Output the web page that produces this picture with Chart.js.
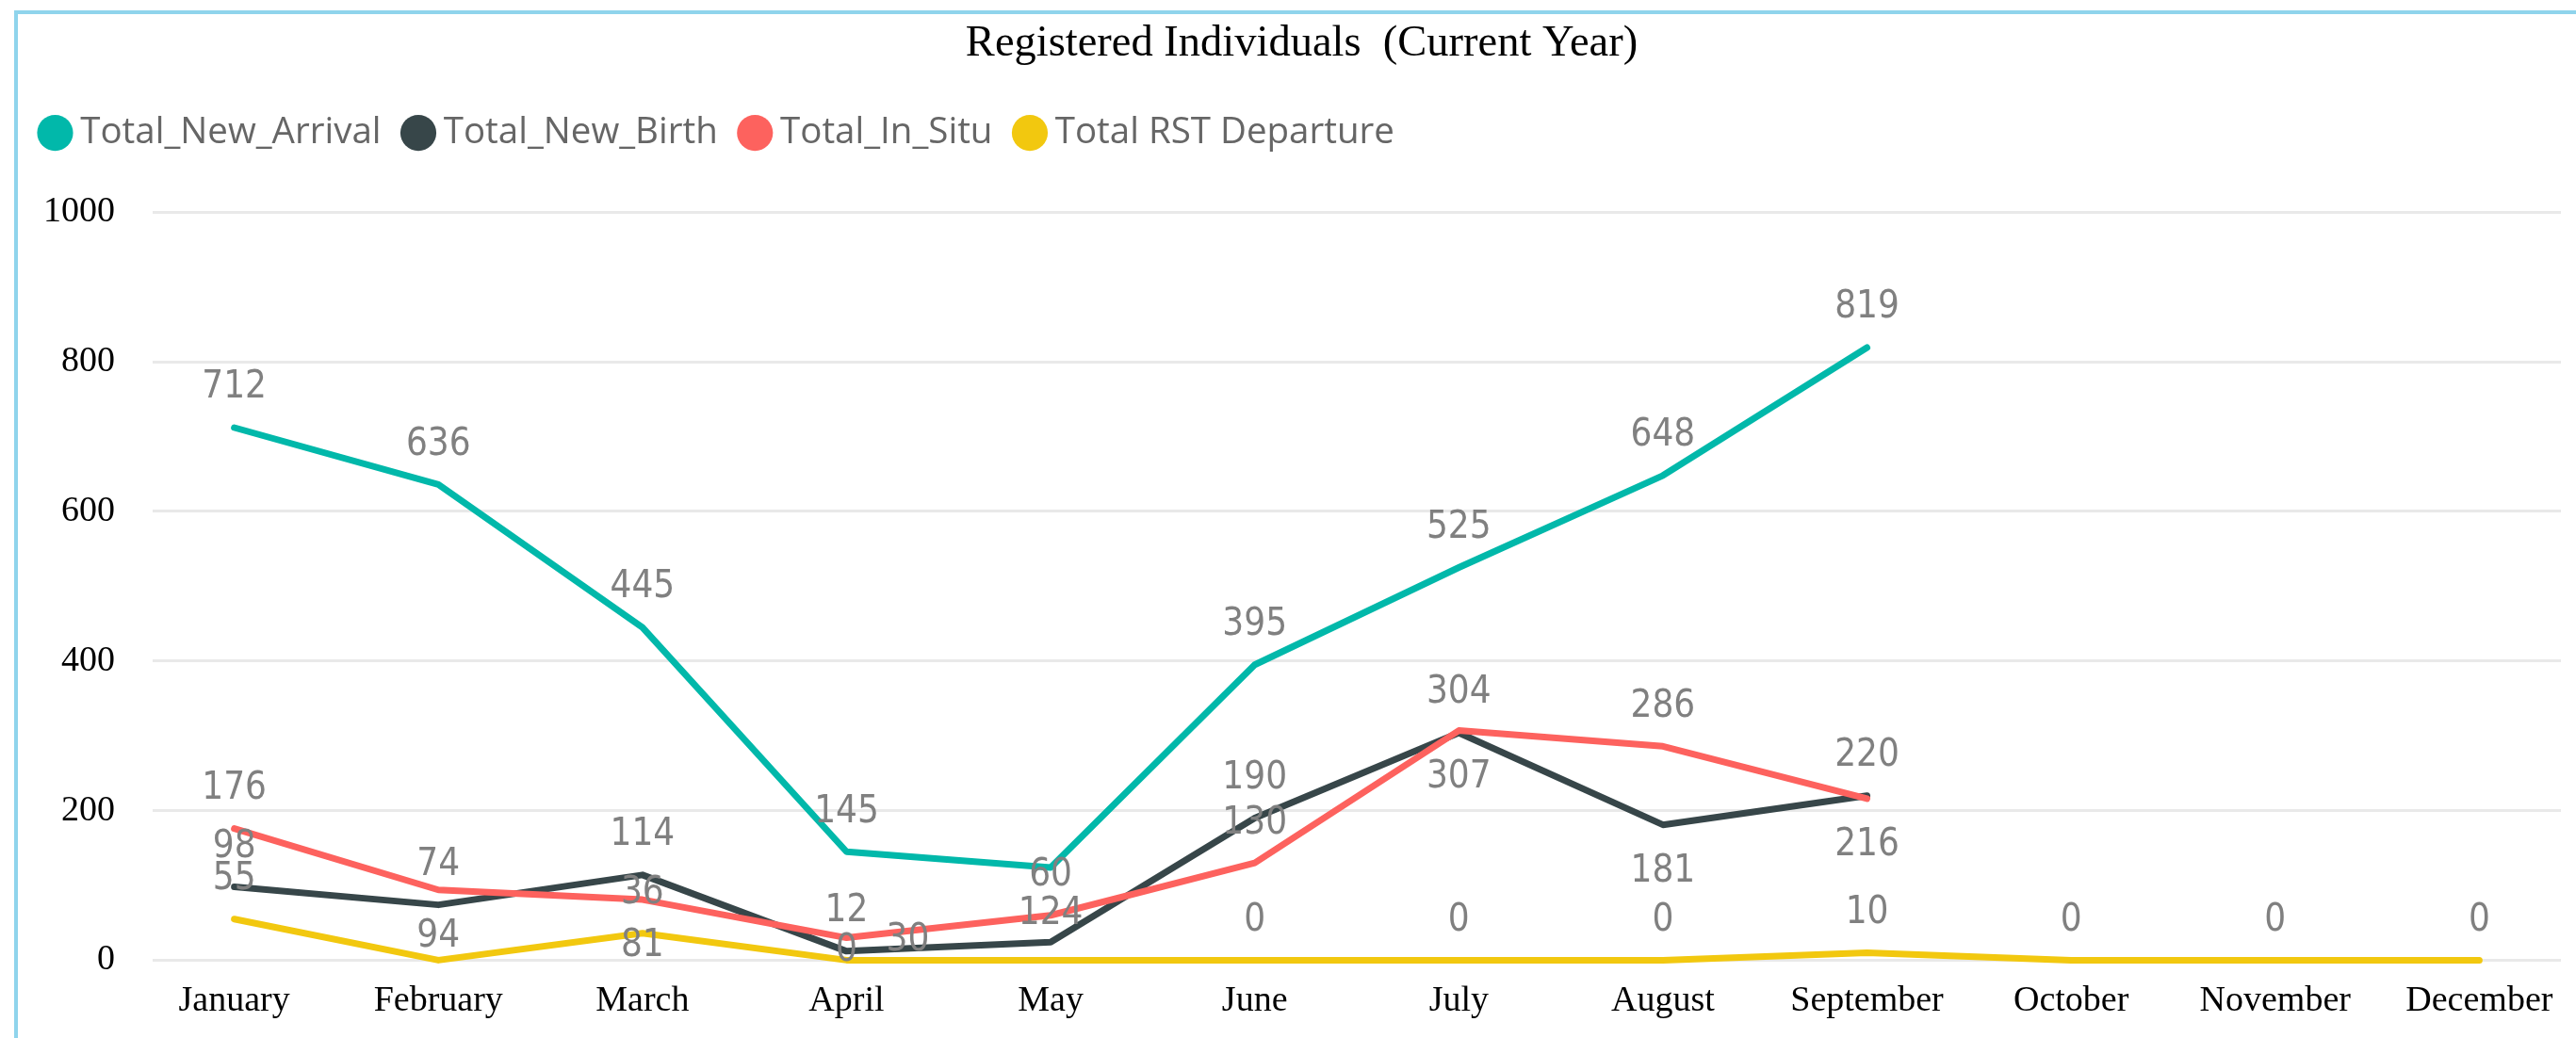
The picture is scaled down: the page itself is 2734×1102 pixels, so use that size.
<!DOCTYPE html>
<html>
<head>
<meta charset="utf-8">
<title>Registered Individuals (Current Year)</title>
<script src="https://cdn.jsdelivr.net/npm/chart.js@4.4.0/dist/chart.umd.min.js"></script>
<style>
    html, body { margin: 0; padding: 0; background: #fff; overflow: hidden; }
    #frame {
        position: absolute; left: 15px; top: 11px;
        width: 2719px; height: 1091px;
        border-top: 4px solid #8fd4ec; border-left: 4px solid #8fd4ec;
    }
    #holder { position: relative; width: 2715px; height: 1087px; }
</style>
</head>
<body>
<div id="frame"><div id="holder"><canvas id="line_chart"></canvas></div></div>
<script>
// values
var months = ['January', 'February', 'March', 'April', 'May', 'June',
    'July', 'August', 'September', 'October', 'November', 'December'];

var newArrival   = [712, 636, 445, 145, 124, 395, 525, 648, 819, null, null, null];
var newBirth     = [98, 74, 114, 12, 24, 190, 304, 181, 220, null, null, null];
var inSitu       = [176, 94, 81, 30, 60, 130, 307, 286, 216, null, null, null];
var rstDeparture = [55, 0, 36, 0, 0, 0, 0, 0, 10, 0, 0, 0];

var yTicks = [0, 200, 400, 600, 800, 1000];

// where Power BI put each data label: a = above, b = below, n = on the point,
// r = pushed right, - = hidden
var newArrivalLbl   = ['a', 'a', 'a', 'a', 'b', 'a', 'a', 'a', 'a', '-', '-', '-'];
var newBirthLbl     = ['a', 'a', 'a', 'a', '-', 'a', 'a', 'b', 'a', '-', '-', '-'];
var inSituLbl       = ['a', 'b', 'b', 'r', 'a', 'a', 'b', 'a', 'b', '-', '-', '-'];
var rstDepartureLbl = ['a', '-', 'a', 'n', '-', 'a', 'a', 'a', 'a', 'a', 'a', 'a'];

var seriesNames  = ['Total_New_Arrival', 'Total_New_Birth', 'Total_In_Situ', 'Total RST Departure'];
var seriesColors = ['#01B8AA', '#374649', '#FD625E', '#F2C80F'];
var seriesValues = [newArrival, newBirth, inSitu, rstDeparture];
var seriesLabels = [newArrivalLbl, newBirthLbl, inSituLbl, rstDepartureLbl];

var serif = '"Liberation Serif", "Times New Roman", serif';

function toPoints(values) {
    return values.map(function (v, i) {
        return {x: i, y: v};
    });
}

// draws the grey value labels (no datalabels plugin available)
var pointLabels = {
    id: 'pointLabels',
    afterDatasetsDraw: function (chart) {
        var ctx = chart.ctx;
        var xScale = chart.scales.x;
        ctx.save();
        ctx.font = '40px "DejaVu Sans Condensed", "Liberation Sans Narrow", "DejaVu Sans", sans-serif';
        ctx.fillStyle = '#808080';
        ctx.textAlign = 'center';
        ctx.textBaseline = 'middle';
        chart.data.datasets.forEach(function (ds, d) {
            var meta = chart.getDatasetMeta(d);
            meta.data.forEach(function (pt, i) {
                var v = seriesValues[d][i];
                var pos = seriesLabels[d][i];
                if (v === null || pos === '-') {
                    return;
                }
                var x = pt.x, y = pt.y;
                if (pos === 'a') {
                    y -= 42;
                } else if (pos === 'b') {
                    y += 50;
                } else if (pos === 'n') {
                    y -= 10;
                } else if (pos === 'r') {
                    x = xScale.getPixelForValue(i + 0.3);
                    y += 3;
                }
                ctx.fillText(String(v), x, y);
            });
        });
        ctx.restore();
    }
};

// room between legend and plot, and the title nudged right like the original
var layoutTweak = {
    id: 'layoutTweak',
    beforeInit: function (chart) {
        var fit = chart.legend.fit;
        chart.legend.fit = function () {
            fit.call(this);
            this.height += 55;
        };
    },
    afterLayout: function (chart) {
        chart.titleBlock.left += 13;
        chart.titleBlock.right += 13;
    }
};

var datasets = seriesValues.map(function (vals, d) {
    return {
        label: seriesNames[d],
        data: toPoints(vals),
        borderColor: seriesColors[d],
        backgroundColor: seriesColors[d],
        borderWidth: 7,
        pointRadius: 0,
        pointHoverRadius: 0,
        borderCapStyle: 'round',
        borderJoinStyle: 'round',
        tension: 0,
        clip: 8,                          // keep the full stroke of the zero line
        order: seriesValues.length - d   // later series painted on top, like Power BI
    };
});

new Chart(document.getElementById('line_chart'), {
    type: 'line',
    data: {datasets: datasets},
    options: {
        responsive: true,
        maintainAspectRatio: false,
        animation: false,
        layout: {padding: {left: 0, right: 16, top: 0, bottom: 3}},
        plugins: {
            title: {
                display: true,
                text: 'Registered Individuals  (Current Year)',
                color: '#000',
                font: {family: serif, size: 46.5, weight: 'normal'},
                padding: {top: 4, bottom: 15}
            },
            legend: {
                position: 'top',
                align: 'start',
                labels: {
                    usePointStyle: true,
                    pointStyle: 'circle',
                    boxWidth: 15,
                    boxHeight: 27,
                    padding: 32,
                    color: '#666',
                    font: {family: '"Open Sans", "Noto Sans", sans-serif', size: 38.5},
                    sort: function (a, b) {
                        return a.datasetIndex - b.datasetIndex;
                    },
                    generateLabels: function (chart) {
                        return Chart.defaults.plugins.legend.labels.generateLabels(chart).map(function (item) {
                            item.lineWidth = 0;
                            return item;
                        });
                    }
                }
            },
            tooltip: {enabled: false}
        },
        scales: {
            x: {
                type: 'linear',
                min: -0.4,
                max: 11.4,
                grid: {display: false},
                border: {display: false},
                afterBuildTicks: function (scale) {
                    scale.ticks = months.map(function (m, i) {
                        return {value: i};
                    });
                },
                ticks: {
                    autoSkip: false,
                    maxRotation: 0,
                    padding: 13,
                    color: '#000',
                    font: {family: serif, size: 38},
                    callback: function (value) {
                        return months[value];
                    }
                }
            },
            y: {
                min: yTicks[0],
                max: yTicks[yTicks.length - 1],
                afterFit: function (scale) {
                    scale.width = 143;
                },
                afterBuildTicks: function (scale) {
                    scale.ticks = yTicks.map(function (v) {
                        return {value: v};
                    });
                },
                grid: {color: '#e9e9e9', lineWidth: 3, drawTicks: false},
                border: {display: false},
                ticks: {
                    padding: 40,
                    color: '#000',
                    font: {family: serif, size: 38},
                    callback: function (value) {
                        return String(value);
                    }
                }
            }
        }
    },
    plugins: [pointLabels, layoutTweak]
});
</script>
</body>
</html>
